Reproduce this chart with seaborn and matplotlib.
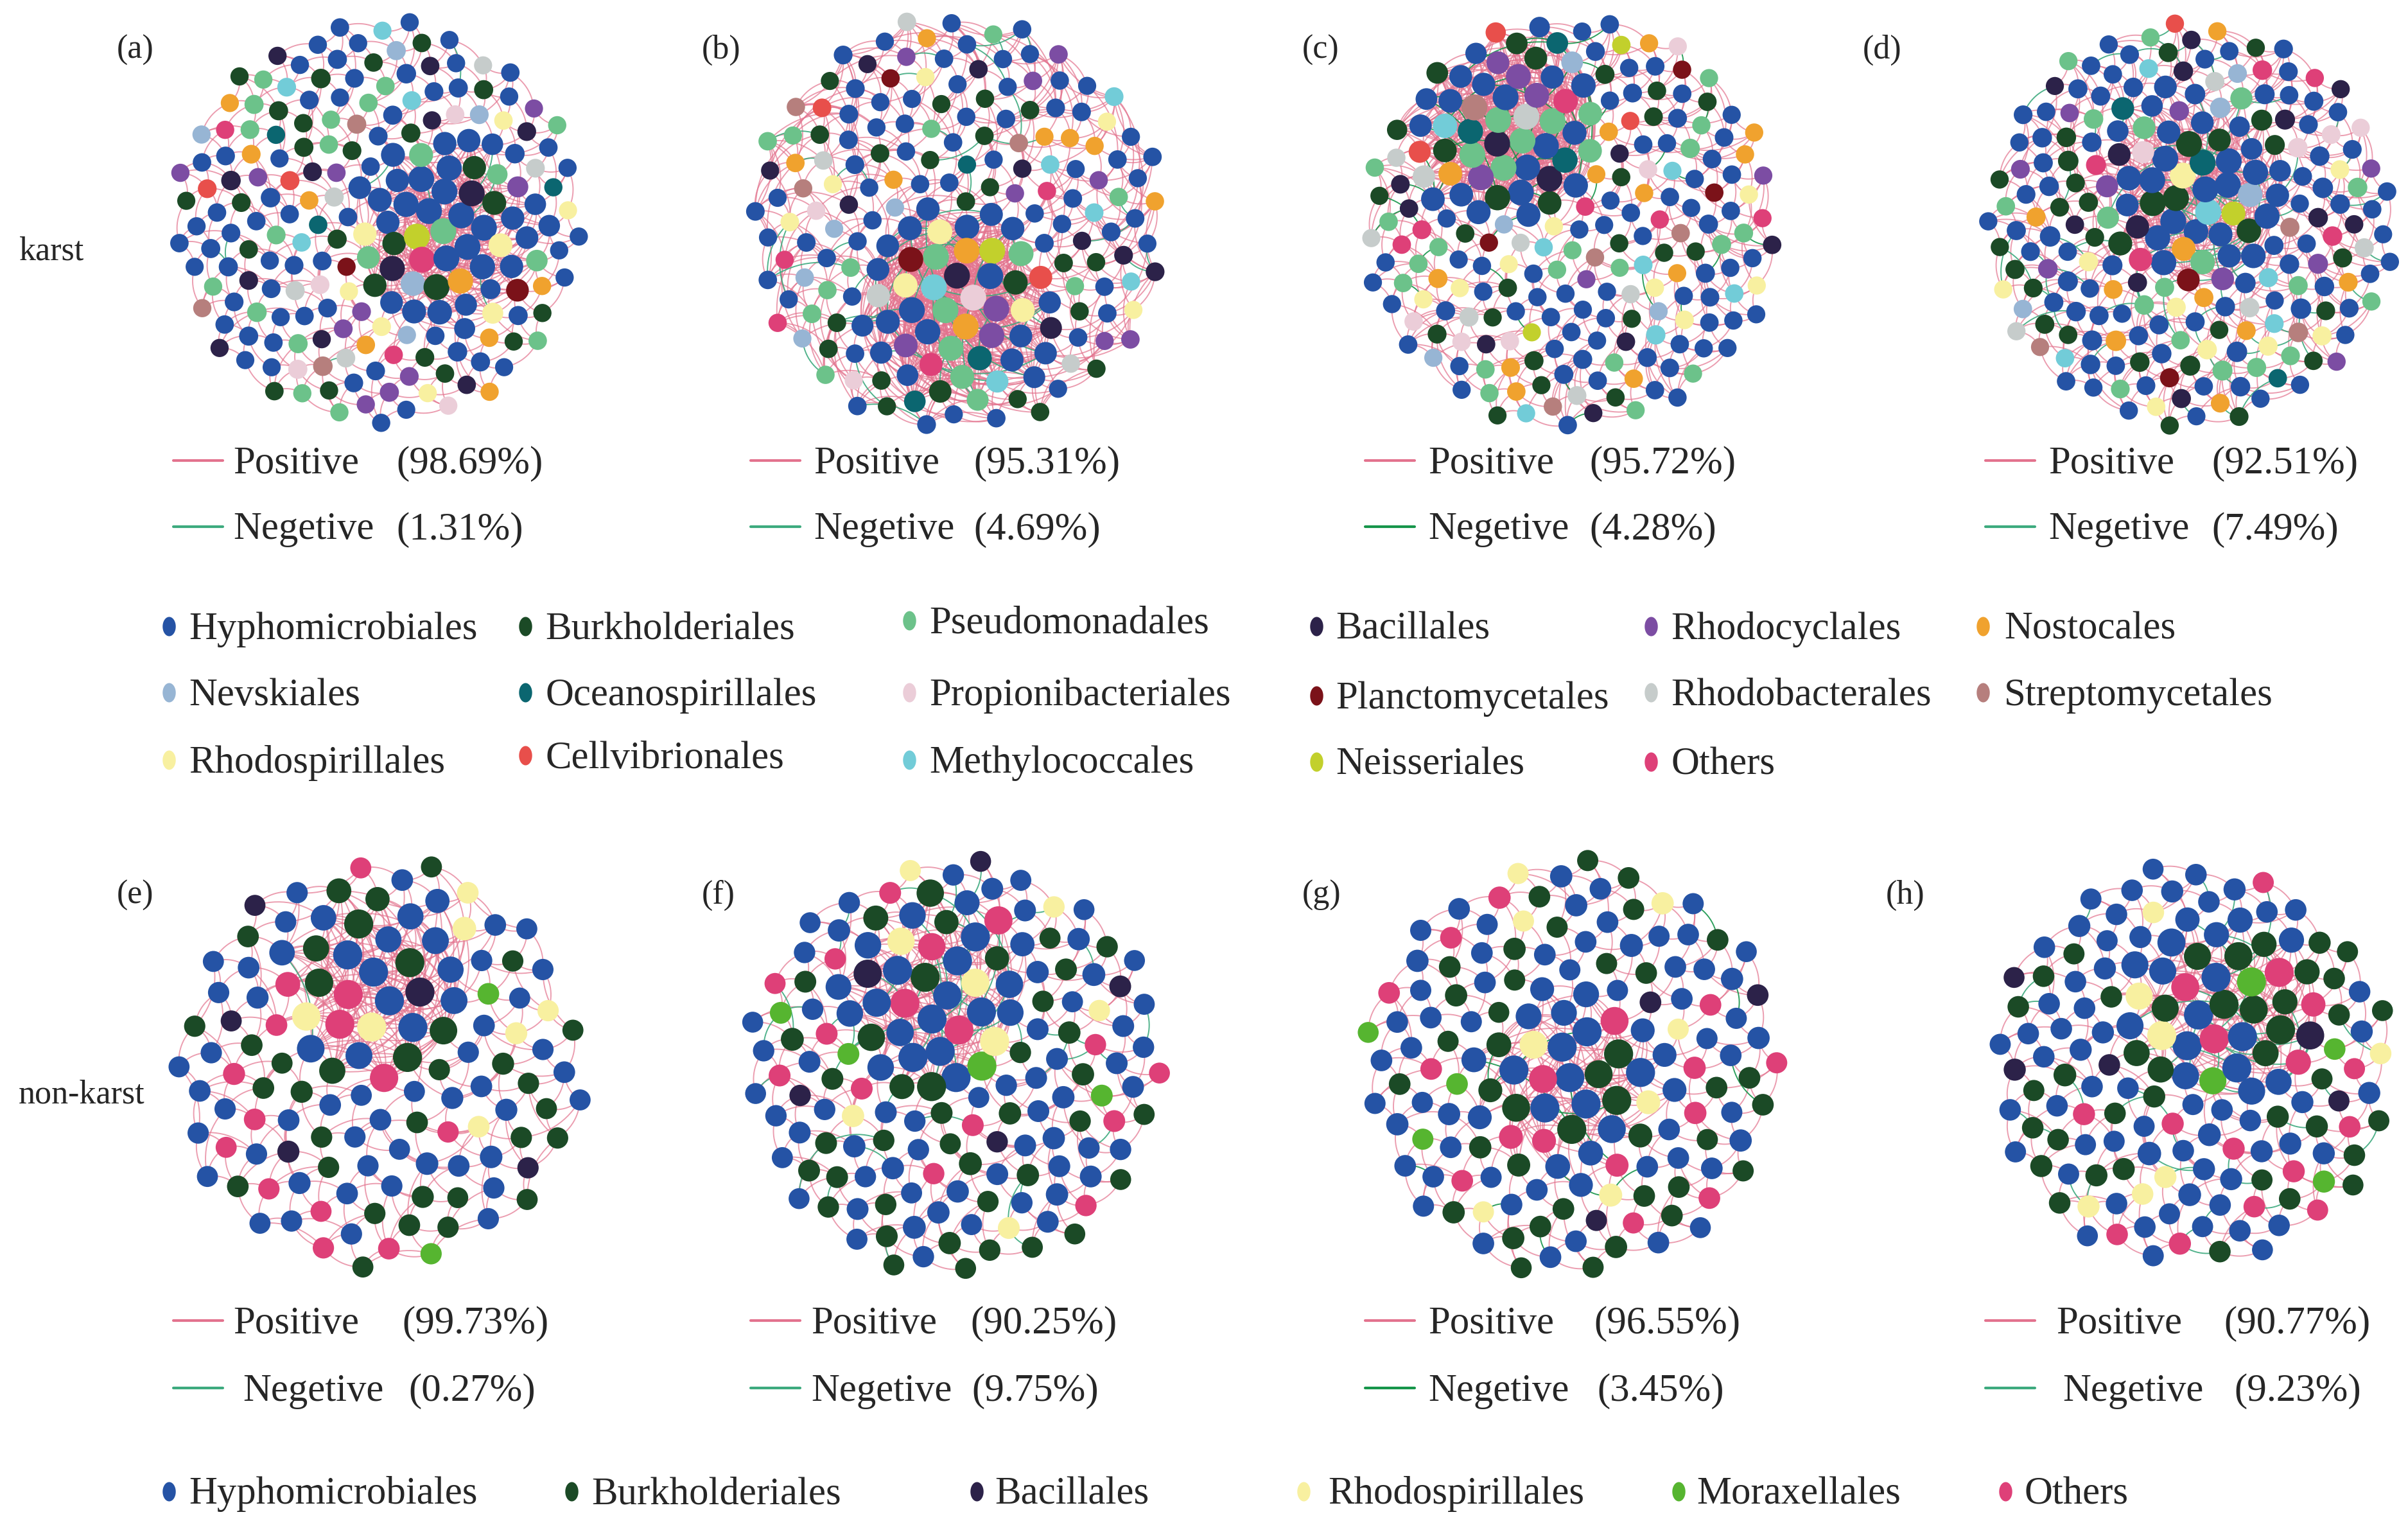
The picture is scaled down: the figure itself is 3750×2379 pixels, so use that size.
import numpy as np
import pandas as pd
import matplotlib
matplotlib.use("Agg")
import matplotlib.pyplot as plt
import seaborn as sns
from matplotlib.collections import LineCollection
from matplotlib.path import Path

# ---- data ----
orders_karst = ["Hyphomicrobiales", "Burkholderiales", "Pseudomonadales", "Bacillales",
                "Rhodocyclales", "Nostocales", "Nevskiales", "Oceanospirillales",
                "Propionibacteriales", "Planctomycetales", "Rhodobacterales", "Streptomycetales",
                "Rhodospirillales", "Cellvibrionales", "Methylococcales", "Neisseriales", "Others"]
orders_nonkarst = ["Hyphomicrobiales", "Burkholderiales", "Bacillales",
                   "Rhodospirillales", "Moraxellales", "Others"]

# approximate node counts per order (same order as the lists above)
nodes_a = [90, 25, 20, 12, 10, 8, 5, 3, 4, 2, 5, 3, 8, 2, 4, 1, 3]
nodes_b = [80, 22, 16, 10, 10, 9, 4, 3, 3, 2, 4, 3, 8, 2, 6, 1, 4]
nodes_c = [85, 25, 25, 9, 6, 12, 4, 3, 5, 3, 8, 4, 8, 3, 7, 2, 6]
nodes_d = [100, 30, 18, 12, 9, 9, 4, 3, 4, 2, 4, 3, 9, 1, 5, 1, 5]
nodes_e = [60, 35, 5, 7, 2, 14]
nodes_f = [80, 40, 5, 8, 4, 16]
nodes_g = [75, 40, 3, 8, 3, 16]
nodes_h = [75, 40, 5, 7, 4, 16]

# approximate edge counts: spread over the network / inside the dense module
edge_counts = [550, 750, 700, 800, 330, 420, 340, 380]
module_edges = [250, 550, 450, 250, 160, 160, 110, 130]

panel_labels = ["(a)", "(b)", "(c)", "(d)", "(e)", "(f)", "(g)", "(h)"]
positive_pct = ["(98.69%)", "(95.31%)", "(95.72%)", "(92.51%)",
                "(99.73%)", "(90.25%)", "(96.55%)", "(90.77%)"]
negative_pct = ["(1.31%)", "(4.69%)", "(4.28%)", "(7.49%)",
                "(0.27%)", "(9.75%)", "(3.45%)", "(9.23%)"]
negative_share = [1.31, 4.69, 4.28, 7.49, 0.27, 9.75, 3.45, 9.23]

# ---- styles ----
colors = {
    "Hyphomicrobiales": "#2553A5", "Burkholderiales": "#1B4A26", "Pseudomonadales": "#6CC28A",
    "Bacillales": "#2C2249", "Rhodocyclales": "#7C4DA3", "Nostocales": "#F0A22E",
    "Nevskiales": "#97B5D4", "Oceanospirillales": "#0B6670", "Propionibacteriales": "#EBCDD8",
    "Planctomycetales": "#7B1219", "Rhodobacterales": "#C6CCCB", "Streptomycetales": "#B67F7D",
    "Rhodospirillales": "#F8F0A0", "Cellvibrionales": "#E84F4B", "Methylococcales": "#72CCD8",
    "Neisseriales": "#C2D02C", "Others": "#DE4078", "Moraxellales": "#56B530",
}
POS_COL = "#E3738E"
NEG_COL = ["#3DAA7E", "#3DAA7E", "#16954A", "#3DAA7E", "#3DAA7E", "#3DAA7E", "#16954A", "#3DAA7E"]

sns.set_style("white")
plt.rcParams["font.family"] = ["Liberation Serif", "DejaVu Serif"]

W, H = 1568, 995
fig = plt.figure(figsize=(15, 15 * H / W), dpi=250)
ax = fig.add_axes([0, 0, 1, 1])

# panel geometry: centre x, centre y, radius (display px)
geom = [(246, 145, 133), (623, 146, 136), (1023, 146, 135), (1426, 146, 133),
        (247, 694, 134), (622, 694, 136), (1024, 694, 136), (1427, 694, 131)]
# where the dense module sits, as a fraction of the radius
module_at = [(0.35, 0.05), (0.0, 0.4), (-0.35, -0.5), (0.0, -0.2),
             (0.0, -0.4), (-0.1, -0.35), (0.0, 0.1), (0.15, -0.3)]
label_xy = [(76, 38), (457, 38), (848, 38), (1213, 38),
            (76, 588), (457, 588), (848, 588), (1228, 588)]
# line start, "Positive" x, pct x, "Negetive" x, pct x
leg_x = [(113, 152, 258, 152, 258), (489, 530, 634, 530, 634),
         (889, 930, 1035, 930, 1035), (1293, 1334, 1440, 1334, 1440),
         (113, 152, 262, 158, 266), (489, 528, 632, 528, 633),
         (889, 930, 1038, 930, 1040), (1293, 1339, 1448, 1343, 1455)]
size_range = [(66, 135)] * 4 + [(88, 170)] * 4

counts = [nodes_a, nodes_b, nodes_c, nodes_d, nodes_e, nodes_f, nodes_g, nodes_h]
golden = np.pi * (3 - np.sqrt(5))
ranks = [1, 3, 6, 10, 15, 21, 2, 28, 36, 4, 8, 12, 18, 25, 45, 5]

frames = []
for p, cnt in enumerate(counts):
    names = orders_karst if p < 4 else orders_nonkarst
    # interleave the orders so colours are mixed over the disc
    keys, cats = [], []
    for ci, (nm, n) in enumerate(zip(names, cnt)):
        for j in range(n):
            keys.append(((j + 0.5) / n + 0.037 * ci) % 1.0)
            cats.append(nm)
    idx = np.argsort(keys, kind="stable")
    cats = [cats[k] for k in idx]
    N = len(cats)
    cx, cy, R = geom[p]
    i = np.arange(N)
    r = R * np.sqrt((i + 0.5) / N)
    th = i * golden + 0.3 * p
    x = cx + r * np.cos(th)
    y = cy + r * np.sin(th)

    # edges: a spread of neighbour ranks, giving short and long arcs
    d = np.hypot(x[:, None] - x[None, :], y[:, None] - y[None, :])
    nb = np.argsort(d, axis=1)
    edges, seen = [], set()
    for rk in ranks:
        for a in range(N):
            b = nb[a, rk]
            e = (min(a, b), max(a, b))
            if e not in seen:
                seen.add(e)
                edges.append(e)
            if len(edges) >= edge_counts[p]:
                break
        if len(edges) >= edge_counts[p]:
            break
    # dense module
    mx_, my_ = cx + module_at[p][0] * R, cy + module_at[p][1] * R
    inside = np.where(np.hypot(x - mx_, y - my_) < 0.5 * R)[0]
    added = 0
    for step in (3, 2, 1):
        for ia in inside:
            for ib in inside:
                if ib <= ia or (ia + ib) % step or d[ia, ib] > 0.6 * R:
                    continue
                e = (ia, ib)
                if e not in seen and added < module_edges[p]:
                    seen.add(e)
                    edges.append(e)
                    added += 1

    deg = np.zeros(N)
    pos_seg, neg_seg = [], []
    t = np.linspace(0, 1, 16)[:, None]
    share = negative_share[p] / 100
    for k, (a, b) in enumerate(edges):
        deg[a] += 1
        deg[b] += 1
        p0 = np.array([x[a], y[a]])
        p2 = np.array([x[b], y[b]])
        v = p2 - p0
        ctrl = (p0 + p2) / 2 + 0.25 * np.array([-v[1], v[0]])
        pts = (1 - t) ** 2 * p0 + 2 * (1 - t) * t * ctrl + t ** 2 * p2
        if np.floor((k + 1) * share) > np.floor(k * share):
            neg_seg.append(pts)
        else:
            pos_seg.append(pts)
    ax.add_collection(LineCollection(pos_seg, colors=POS_COL, linewidths=0.55,
                                     alpha=0.7, zorder=1))
    ax.add_collection(LineCollection(neg_seg, colors=NEG_COL[p], linewidths=0.55,
                                     alpha=0.9, zorder=2))
    top = np.quantile(deg, 0.95)
    z = np.clip((deg - deg.min()) / max(top - deg.min(), 1), 0, 1)
    lo, hi = size_range[p]
    frames.append(pd.DataFrame({"x": x, "y": y, "order": cats,
                                "sz": lo + (hi - lo) * z ** 1.6}))

nodes = pd.concat(frames, ignore_index=True)
smin, smax = nodes["sz"].min(), nodes["sz"].max()
sns.scatterplot(data=nodes, x="x", y="y", hue="order", palette=colors, size="sz",
                sizes=(smin, smax), edgecolor="none", linewidth=0, legend=False,
                ax=ax, zorder=3)
ax.set_xlim(0, W)
ax.set_ylim(H, 0)
ax.axis("off")

FS = 17.5
for p in range(8):
    lx, ly = label_xy[p]
    ax.text(lx, ly, panel_labels[p], fontsize=15, ha="left", va="baseline")
    y_pos = 300 if p < 4 else 860
    y_neg = 343 if p < 4 else 904
    x0, tpx, ppx, tnx, pnx = leg_x[p]
    ax.plot([x0, x0 + 32], [y_pos, y_pos], color=POS_COL, lw=1.2)
    ax.plot([x0, x0 + 32], [y_neg, y_neg], color=NEG_COL[p], lw=1.2)
    ax.text(tpx, y_pos + 8, "Positive", fontsize=FS, va="baseline")
    ax.text(ppx, y_pos + 8, positive_pct[p], fontsize=FS, va="baseline")
    ax.text(tnx, y_neg + 8, "Negetive", fontsize=FS, va="baseline")
    ax.text(pnx, y_neg + 8, negative_pct[p], fontsize=FS, va="baseline")

ax.text(12, 169, "karst", fontsize=15, va="baseline")
ax.text(12, 718, "non-karst", fontsize=15, va="baseline")

# oval legend marker
tt = np.linspace(0, 2 * np.pi, 40)
oval = Path(np.column_stack([0.68 * np.cos(tt), np.sin(tt)]))

top_leg_pos = [(110, 123, 408), (342, 355, 408), (592, 605, 404), (857, 870, 408),
               (1075, 1088, 408), (1291, 1305, 408),
               (110, 123, 451), (342, 355, 451), (592, 605, 451), (857, 870, 453),
               (1075, 1088, 451), (1291, 1305, 451),
               (110, 123, 495), (342, 355, 492), (592, 605, 495), (857, 870, 496),
               (1075, 1088, 496)]
top_leg_names = ["Hyphomicrobiales", "Burkholderiales", "Pseudomonadales", "Bacillales",
                 "Rhodocyclales", "Nostocales", "Nevskiales", "Oceanospirillales",
                 "Propionibacteriales", "Planctomycetales", "Rhodobacterales",
                 "Streptomycetales", "Rhodospirillales", "Cellvibrionales",
                 "Methylococcales", "Neisseriales", "Others"]
for nm, (mx, tx, yy) in zip(top_leg_names, top_leg_pos):
    ax.scatter([mx], [yy], marker=oval, s=75, color=colors[nm], linewidths=0, zorder=4)
    ax.text(tx, yy + 8, nm, fontsize=FS, va="baseline")

bot_leg_pos = [(110, 123), (372, 385), (636, 648), (849, 865), (1093, 1105), (1306, 1318)]
for nm, (mx, tx) in zip(orders_nonkarst, bot_leg_pos):
    ax.scatter([mx], [971], marker=oval, s=75, color=colors[nm], linewidths=0, zorder=4)
    ax.text(tx, 979, nm, fontsize=FS, va="baseline")

fig.savefig("out.png", dpi=250, facecolor="white")
